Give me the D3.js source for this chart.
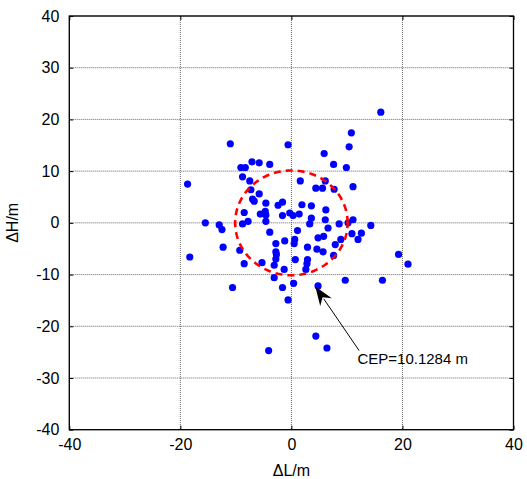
<!DOCTYPE html>
<html>
<head>
<meta charset="utf-8">
<script src="https://cdn.jsdelivr.net/npm/d3@7"></script>
<style>
  html, body { margin: 0; padding: 0; background: #fff; }
  svg { display: block; font-family: "Liberation Sans", Arial, sans-serif; }
</style>
</head>
<body>
<svg id="chart" width="527" height="479"></svg>
<script>
// ---- data ----
const dL = [16.1, 10.8, 10.4, -11.0, -0.6, 5.9, 7.6, 9.9, -9.1, -8.3, -7.1, -5.8, -3.9, -18.7, -8.8, -7.5, 1.6, 6.1, 4.4, 5.6,
  7.7, 11.1, -7.3, -5.8, -7.0, -6.7, -4.6, -2.4, -1.6, 1.9, 3.6, 6.2, -8.5, -5.6, -4.7, -4.6, -1.6, -0.3, 0.3, 1.4,
  3.6, 6.1, 8.6, 11.1, 14.3, 3.3, 6.6, 1.1, 10.2, 10.9, 12.6, 12.0, 8.9, 4.8, 5.8, 0.6, 7.9, 2.9, 4.6, 5.7,
  7.6, 19.3, 21.0, 0.7, 2.9, 2.8, -1.3, 2.6, 0.4, -1.6, -0.6, 4.8, 9.7, 16.4, 4.4, 6.4, -4.1, -15.5, -13.0, -12.5,
  -8.8, -7.8, -4.6, -3.9, -1.2, -2.8, -12.3, -9.3, -18.3, -2.8, -2.7, -2.8, -8.5, -5.3, -3.1, -3.1, -10.6, 0.5];
const dH = [21.4, 17.4, 14.7, 15.3, 15.1, 13.4, 11.3, 10.7, 10.7, 10.7, 11.8, 11.6, 11.3, 7.5, 8.9, 8.1, 8.1, 8.1, 6.7, 6.7,
  6.5, 7.0, 6.4, 5.6, 4.6, 4.2, 3.8, 3.4, 4.0, 3.5, 3.3, 2.5, 2.0, 1.7, 2.2, 1.5, 1.4, 1.9, 1.4, 1.7,
  0.9, 0.6, -0.2, 0.6, -0.5, -0.2, -1.0, -1.5, 0.0, -2.1, -2.0, -3.2, -3.2, -2.9, -2.6, -3.2, -4.2, -4.7, -5.1, -5.6,
  -6.3, -6.1, -8.0, -7.1, -7.1, -7.9, -9.0, -9.0, -11.7, -12.5, -14.9, -12.2, -11.1, -11.1, -21.9, -24.2, -24.7, 0.0, -0.4, -1.3,
  -0.2, 0.3, 0.3, -1.8, -3.5, -4.0, -4.7, -5.3, -6.6, -5.6, -6.1, -7.0, -7.9, -7.7, -8.2, -10.6, -12.5, -4.0];
const ticks = [-40, -30, -20, -10, 0, 10, 20, 30, 40];
const xTicks = [-40, -20, 0, 20, 40];
const cep = 10.1284;
const cepLabel = "CEP=10.1284 m";
const arrowTip = [4.3, -12.3];
const arrowTail = [12.2, -24.7];
const labelPos = [11.9, -27.3];

// ---- layout ----
const svg = d3.select("#chart");
const L = 69.3, R = 513.5, T = 16, B = 429.7;
const x = d3.scaleLinear().domain([-40, 40]).range([L, R]);
const y = d3.scaleLinear().domain([-40, 40]).range([B, T]);
const fmt = d => String(d); // hyphen minus like the original

// grid
const grid = svg.append("g");
grid.selectAll("line.gx").data(xTicks).enter().append("line")
  .attr("x1", d => x(d)).attr("x2", d => x(d)).attr("y1", T).attr("y2", B)
  .attr("stroke", "#666").attr("stroke-width", 1).attr("stroke-dasharray", "1,1");
grid.selectAll("line.gy").data(ticks).enter().append("line")
  .attr("y1", d => y(d)).attr("y2", d => y(d)).attr("x1", L).attr("x2", R)
  .attr("stroke", "#666").attr("stroke-width", 1).attr("stroke-dasharray", "1,1");

// axes
const fs = 16;
const ax = svg.append("g").attr("transform", `translate(0,${B})`)
  .call(d3.axisBottom(x).tickValues(xTicks).tickSize(-4).tickPadding(9).tickFormat(fmt));
const axT = svg.append("g").attr("transform", `translate(0,${T})`)
  .call(d3.axisTop(x).tickValues(xTicks).tickSize(-4).tickFormat(""));
const ay = svg.append("g").attr("transform", `translate(${L},0)`)
  .call(d3.axisLeft(y).tickValues(ticks).tickSize(-4).tickPadding(10).tickFormat(fmt));
const ayR = svg.append("g").attr("transform", `translate(${R},0)`)
  .call(d3.axisRight(y).tickValues(ticks).tickSize(-4).tickFormat(""));
[ax, axT, ay, ayR].forEach(g => {
  g.select(".domain").remove();
  g.selectAll(".tick line").attr("stroke", "#000").attr("stroke-width", 1);
  g.selectAll("text").attr("font-size", fs).attr("fill", "#000")
    .attr("font-family", "'Liberation Sans', Arial, sans-serif");
});
ax.selectAll("text").attr("dy", "0.71em");

// box
svg.append("rect").attr("x", L).attr("y", T).attr("width", R - L).attr("height", B - T)
  .attr("fill", "none").attr("stroke", "#000").attr("stroke-width", 1.3);

// points
const pts = dL.map((v, i) => [v, dH[i]]);
svg.append("g").selectAll("circle").data(pts).enter().append("circle")
  .attr("cx", d => x(d[0])).attr("cy", d => y(d[1])).attr("r", 3.6)
  .attr("fill", "#0000ff");

// CEP circle
const angles = d3.range(0, 361, 2);
const circ = d3.line().x(a => x(cep * Math.cos(a * Math.PI / 180))).y(a => y(cep * Math.sin(a * Math.PI / 180)));
svg.append("path").attr("d", circ(angles)).attr("fill", "none")
  .attr("stroke", "#ff0000").attr("stroke-width", 2.6).attr("stroke-dasharray", "7,5");

// arrow
const tx = x(arrowTip[0]), ty = y(arrowTip[1]);
const sx = x(arrowTail[0]), sy = y(arrowTail[1]);
const ang = Math.atan2(ty - sy, tx - sx);
const hl = 19, hw = 7;
const bx = tx - hl * Math.cos(ang), by = ty - hl * Math.sin(ang);
svg.append("line").attr("x1", sx).attr("y1", sy).attr("x2", bx + 4 * Math.cos(ang)).attr("y2", by + 4 * Math.sin(ang))
  .attr("stroke", "#000").attr("stroke-width", 1);
const p1 = [bx + hw * Math.sin(ang), by - hw * Math.cos(ang)];
const p2 = [bx - hw * Math.sin(ang), by + hw * Math.cos(ang)];
const pm = [tx - 13 * Math.cos(ang), ty - 13 * Math.sin(ang)];
svg.append("path").attr("d", `M${tx},${ty}L${p1[0]},${p1[1]}L${pm[0]},${pm[1]}L${p2[0]},${p2[1]}Z`).attr("fill", "#000");

svg.append("text").attr("x", x(labelPos[0])).attr("y", y(labelPos[1]))
  .attr("font-size", 15).attr("fill", "#000").text(cepLabel);

// axis labels
svg.append("text").attr("x", (L + R) / 2).attr("y", 476).attr("text-anchor", "middle")
  .attr("font-size", fs).text("ΔL/m");
svg.append("text").attr("transform", `translate(18,${(T + B) / 2}) rotate(-90)`)
  .attr("text-anchor", "middle").attr("font-size", fs).text("ΔH/m");
</script>
</body>
</html>
